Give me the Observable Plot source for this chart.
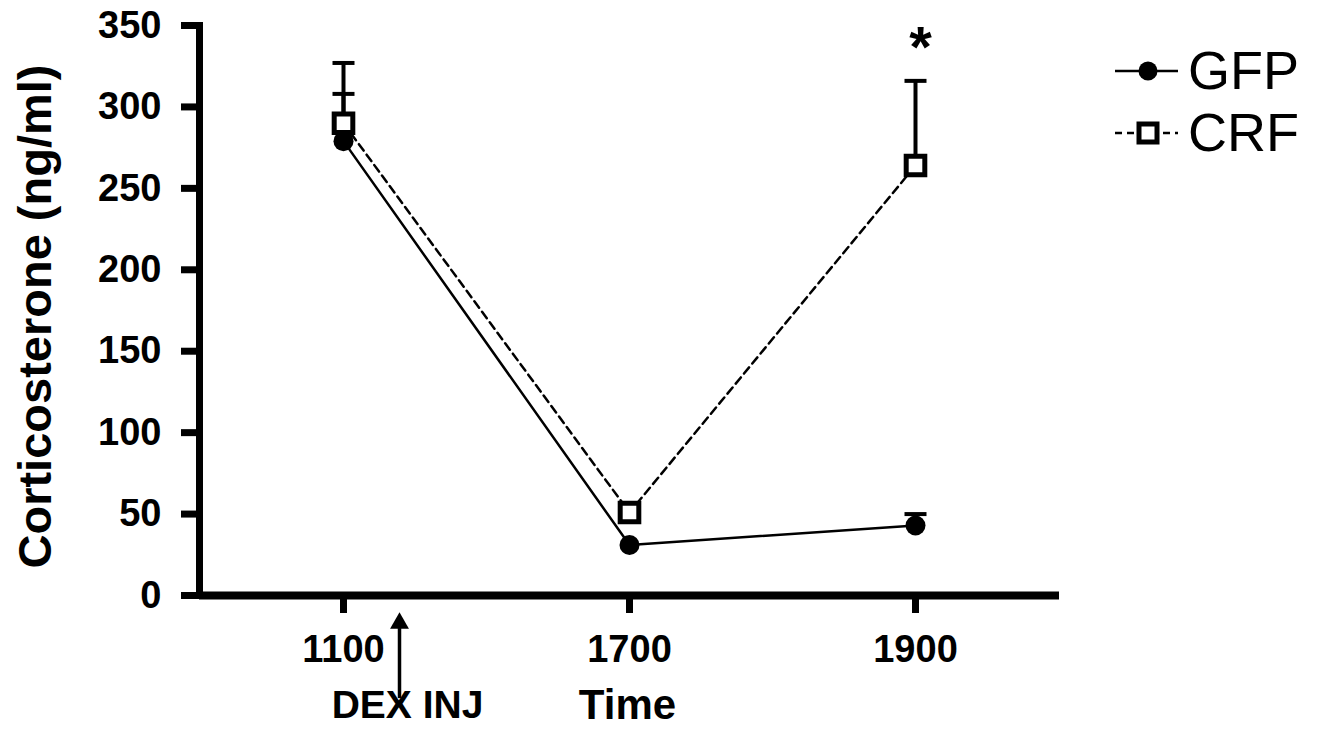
<!DOCTYPE html>
<html><head><meta charset="utf-8">
<script src="https://cdn.jsdelivr.net/npm/d3@7"></script>
<script src="https://cdn.jsdelivr.net/npm/@observablehq/plot@0.6"></script>
<style>
html,body{margin:0;padding:0;background:#fff;}
#wrap{position:relative;width:1321px;height:738px;overflow:hidden;}
#legend{position:absolute;left:0;top:0;}
</style></head><body>
<div id="wrap"></div>
<script>
// ---- data ----
const times = ["1100", "1700", "1900"];
const gfpMean = [279, 31, 43];
const gfpSem = [29, 0, 7];
const crfMean = [290, 51, 264];
const crfSem = [37, 0, 52];
const yTicks = [0, 50, 100, 150, 200, 250, 300, 350];
const groups = ["GFP", "CRF"];
const yLabel = "Corticosterone (ng/ml)";
const xLabel = "Time";
const injLabel = "DEX INJ";
const sigMark = "*";

const rows = [];
times.forEach((t, i) => {
  rows.push({time: t, group: "GFP", mean: gfpMean[i], sem: gfpSem[i]});
  rows.push({time: t, group: "CRF", mean: crfMean[i], sem: crfSem[i]});
});
const gfp = rows.filter(d => d.group === "GFP");
const crf = rows.filter(d => d.group === "CRF");
const withErr = rows.filter(d => d.sem > 0);
const capSymbol = {draw(ctx, size) { const r = Math.sqrt(size / Math.PI); ctx.moveTo(-r, 0); ctx.lineTo(r, 0); }};
const FONT = "'Liberation Sans', Arial, sans-serif";

const chart = Plot.plot({
  width: 1321, height: 738,
  marginLeft: 199, marginRight: 262, marginTop: 25, marginBottom: 143,
  style: {fontFamily: FONT, background: "#fff", color: "#000", overflow: "visible"},
  x: {type: "point", domain: times, padding: 0.5},
  y: {domain: [0, 350]},
  marks: [
    Plot.ruleY([0], {stroke: "#000", strokeWidth: 8}),
    Plot.frame({anchor: "left", stroke: "#000", strokeWidth: 7}),
    Plot.axisY(yTicks, {tickSize: 18, strokeWidth: 7, tickPadding: 20, fontSize: 38, fontWeight: "bold", label: null}),
    Plot.axisX(times, {tickSize: 18, strokeWidth: 7, tickPadding: 22, fontSize: 38, fontWeight: "bold", label: null}),
    Plot.ruleX(withErr, {x: "time", y1: "mean", y2: d => d.mean + d.sem, stroke: "#000", strokeWidth: 4}),
    Plot.dot(withErr, {x: "time", y: d => d.mean + d.sem, symbol: capSymbol, r: 11, stroke: "#000", strokeWidth: 4, fill: "none"}),
    Plot.line(gfp, {x: "time", y: "mean", stroke: "#000", strokeWidth: 2.5}),
    Plot.line(crf, {x: "time", y: "mean", stroke: "#000", strokeWidth: 2.5, strokeDasharray: "8,5"}),
    Plot.dot(gfp, {x: "time", y: "mean", r: 10, fill: "#000", stroke: "none"}),
    Plot.dot(crf, {x: "time", y: "mean", symbol: "square", r: 10.5, fill: "#fff", stroke: "#000", strokeWidth: 5}),
    Plot.text(crf.filter(d => d.time === "1900"), {x: "time", y: d => d.mean + d.sem, text: () => sigMark, dy: -32, dx: 5, fontSize: 58, fontWeight: "bold"}),
    // injection arrow under the 1100 tick
    Plot.link([times[0]], {x1: d => d, x2: d => d, y1: -63, y2: -20, dx: 56, stroke: "#000", strokeWidth: 3.5}),
    Plot.dot([times[0]], {x: d => d, y: -17, dx: 56, symbol: "triangle", r: 7, fill: "#000", stroke: "none"}),
    Plot.text([injLabel], {x: () => times[0], frameAnchor: "bottom", dy: 122, dx: 64, fontSize: 39, fontWeight: "bold"}),
    Plot.text([xLabel], {frameAnchor: "bottom", dy: 123, dx: -2, fontSize: 42, fontWeight: "bold"}),
    Plot.text([yLabel], {frameAnchor: "left", textAnchor: "middle", dx: -164, dy: 6, rotate: -90, fontSize: 47, fontWeight: "bold"})
  ]
});
document.getElementById("wrap").appendChild(chart);

// legend (drawn beside the plot, at the right)
const ns = "http://www.w3.org/2000/svg";
const lg = document.createElementNS(ns, "svg");
lg.setAttribute("id", "legend");
lg.setAttribute("width", 1321); lg.setAttribute("height", 200);
const rowsY = [71, 133];
groups.forEach((g, i) => {
  const y = rowsY[i];
  const line = document.createElementNS(ns, "line");
  line.setAttribute("x1", 1115); line.setAttribute("x2", 1178);
  line.setAttribute("y1", y); line.setAttribute("y2", y);
  line.setAttribute("stroke", "#000"); line.setAttribute("stroke-width", 2.5);
  if (g === "CRF") line.setAttribute("stroke-dasharray", "7,5");
  lg.appendChild(line);
  if (g === "GFP") {
    const c = document.createElementNS(ns, "circle");
    c.setAttribute("cx", 1148); c.setAttribute("cy", y); c.setAttribute("r", 9.5);
    c.setAttribute("fill", "#000");
    lg.appendChild(c);
  } else {
    const r = document.createElementNS(ns, "rect");
    r.setAttribute("x", 1139); r.setAttribute("y", y - 9); r.setAttribute("width", 18); r.setAttribute("height", 18);
    r.setAttribute("fill", "#fff"); r.setAttribute("stroke", "#000"); r.setAttribute("stroke-width", 5);
    lg.appendChild(r);
  }
  const t = document.createElementNS(ns, "text");
  t.setAttribute("x", 1188); t.setAttribute("y", y + 18);
  t.setAttribute("font-family", FONT); t.setAttribute("font-size", 54);
  t.textContent = g;
  lg.appendChild(t);
});
document.getElementById("wrap").appendChild(lg);
</script>
</body></html>
